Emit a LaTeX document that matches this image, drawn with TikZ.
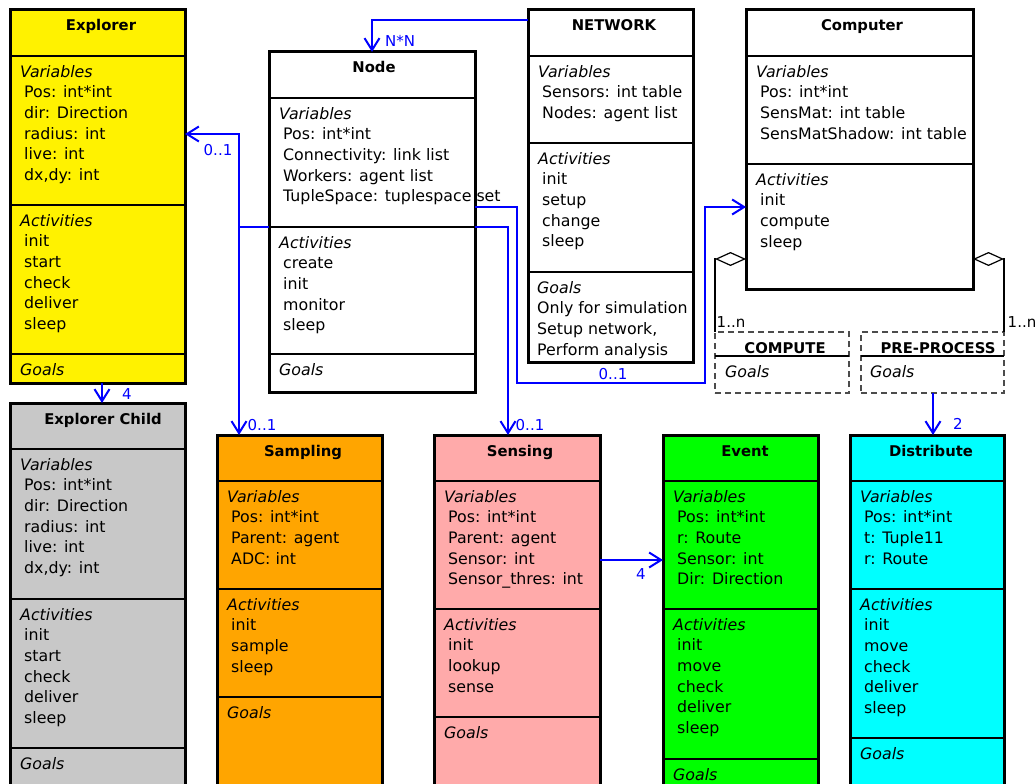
\documentclass[tikz,border=0pt]{standalone}
\usepackage{fontspec}
\setmainfont{DejaVu Sans}
\usetikzlibrary{arrows.meta}
\definecolor{childgray}{RGB}{200,200,200}
\definecolor{sampleorange}{RGB}{255,165,0}
\definecolor{sensepink}{RGB}{255,170,170}
\definecolor{eventgreen}{RGB}{0,255,0}
\definecolor{distcyan}{RGB}{0,255,255}
\newcommand{\attr}{\hspace*{4pt}}
\tikzset{
	every node/.style={font=\fontsize{15.8}{20.7}\selectfont},
	cls/.style={draw, line width=3pt, anchor=north west, inner sep=0pt, outer sep=0pt},
	dcls/.style={draw=black!70, dash pattern=on 6pt off 4pt, line width=1.3pt, anchor=north west, inner sep=0pt, outer sep=0pt},
	sep/.style={line width=1.8pt},
	ttl/.style={font=\fontsize{14.8}{18}\selectfont\bfseries, anchor=base},
	txt/.style={align=left, anchor=north west, inner sep=0pt},
	lbl/.style={blue, inner sep=0pt, font=\fontsize{15}{18}\selectfont},
	lnk/.style={blue, line width=2pt, -{Straight Barb[length=12pt,width=15pt]}},
	agg/.style={line width=1.2pt, -{Diamond[open,length=31pt,width=14pt]}},
}

\begin{document}
\begin{tikzpicture}[x=1pt, y=-1pt]
		%%%%% START %%%%%
		\path[use as bounding box, clip] (0,0) rectangle (1036,784);
		
		% Explorer
		\node[cls, fill=yellow, minimum width=175, minimum height=373] (explorer) at (10,10) {};
		\draw[sep] (10,56) -- (185,56);
		\draw[sep] (10,205) -- (185,205);
		\draw[sep] (10,354) -- (185,354);
		\node[ttl] (explorert) at (101,31) {Explorer};
		\node[txt] (explorerv) at (20,62.5) {\strut\textit{Variables}\\\attr Pos: int*int\\\attr dir: Direction\\\attr radius: int\\\attr live: int\\\attr dx,dy: int};
		\node[txt] (explorera) at (20,211.5) {\strut\textit{Activities}\\\attr init\\\attr start\\\attr check\\\attr deliver\\\attr sleep};
		\node[txt] (explorerg) at (20,360.5) {\strut\textit{Goals}};
		
		% Explorer Child
		\node[cls, fill=childgray, minimum width=175, minimum height=400] (child) at (10,403) {};
		\draw[sep] (10,449) -- (185,449);
		\draw[sep] (10,599) -- (185,599);
		\draw[sep] (10,748) -- (185,748);
		\node[ttl] (childt) at (103,424) {Explorer Child};
		\node[txt] (childv) at (20,455.5) {\strut\textit{Variables}\\\attr Pos: int*int\\\attr dir: Direction\\\attr radius: int\\\attr live: int\\\attr dx,dy: int};
		\node[txt] (childa) at (20,605.5) {\strut\textit{Activities}\\\attr init\\\attr start\\\attr check\\\attr deliver\\\attr sleep};
		\node[txt] (childg) at (20,754.5) {\strut\textit{Goals}};
		
		% Node
		\node[cls, fill=white, minimum width=206, minimum height=340] (nodeagt) at (269,52) {};
		\draw[sep] (269,98) -- (475,98);
		\draw[sep] (269,227) -- (475,227);
		\draw[sep] (269,354) -- (475,354);
		\node[ttl] (nodeagtt) at (374,73) {Node};
		\node[txt] (nodeagtv) at (279,104.5) {\strut\textit{Variables}\\\attr Pos: int*int\\\attr Connectivity: link list\\\attr Workers: agent list\\\attr TupleSpace: tuplespace set};
		\node[txt] (nodeagta) at (279,233.5) {\strut\textit{Activities}\\\attr create\\\attr init\\\attr monitor\\\attr sleep};
		\node[txt] (nodeagtg) at (279,360.5) {\strut\textit{Goals}};
		
		% NETWORK
		\node[cls, fill=white, minimum width=165, minimum height=352] (network) at (528,10) {};
		\draw[sep] (528,56) -- (693,56);
		\draw[sep] (528,143) -- (693,143);
		\draw[sep] (528,272) -- (693,272);
		\node[ttl] (networkt) at (614,31) {NETWORK};
		\node[txt] (networkv) at (538,62.5) {\strut\textit{Variables}\\\attr Sensors: int table\\\attr Nodes: agent list};
		\node[txt] (networka) at (538,149.5) {\strut\textit{Activities}\\\attr init\\\attr setup\\\attr change\\\attr sleep};
		\node[txt] (networkg) at (537,278.5) {\strut\textit{Goals}\\Only for simulation\\Setup network,\\Perform analysis};
		
		% Computer
		\node[cls, fill=white, minimum width=227, minimum height=279] (computer) at (746,10) {};
		\draw[sep] (746,56) -- (973,56);
		\draw[sep] (746,164) -- (973,164);
		\node[ttl] (computert) at (862,31) {Computer};
		\node[txt] (computerv) at (756,62.5) {\strut\textit{Variables}\\\attr Pos: int*int\\\attr SensMat: int table\\\attr SensMatShadow: int table};
		\node[txt] (computera) at (756,170.5) {\strut\textit{Activities}\\\attr init\\\attr compute\\\attr sleep};
		
		% COMPUTE / PRE-PROCESS
		\node[dcls, minimum width=134, minimum height=61] (computeg) at (715,332) {};
		\draw[line width=1.2pt] (715,356) -- (849,356);
		\node[ttl] (computegt) at (785,353) {COMPUTE};
		\node[txt] (computegg) at (725,362.5) {\strut\textit{Goals}};
		\node[dcls, minimum width=143, minimum height=61] (preproc) at (861,332) {};
		\draw[line width=1.2pt] (861,356) -- (1004,356);
		\node[ttl] (preproct) at (938,353) {PRE-PROCESS};
		\node[txt] (preprocg) at (870,362.5) {\strut\textit{Goals}};
		
		% Sampling
		\node[cls, fill=sampleorange, minimum width=165, minimum height=400] (sampling) at (217,435) {};
		\draw[sep] (217,481) -- (382,481);
		\draw[sep] (217,589) -- (382,589);
		\draw[sep] (217,697) -- (382,697);
		\node[ttl] (samplingt) at (303,456) {Sampling};
		\node[txt] (samplingv) at (227,487.5) {\strut\textit{Variables}\\\attr Pos: int*int\\\attr Parent: agent\\\attr ADC: int};
		\node[txt] (samplinga) at (227,595.5) {\strut\textit{Activities}\\\attr init\\\attr sample\\\attr sleep};
		\node[txt] (samplingg) at (227,703.5) {\strut\textit{Goals}};
		
		% Sensing
		\node[cls, fill=sensepink, minimum width=166, minimum height=400] (sensing) at (434,435) {};
		\draw[sep] (434,481) -- (600,481);
		\draw[sep] (434,609) -- (600,609);
		\draw[sep] (434,717) -- (600,717);
		\node[ttl] (sensingt) at (520,456) {Sensing};
		\node[txt] (sensingv) at (444,487.5) {\strut\textit{Variables}\\\attr Pos: int*int\\\attr Parent: agent\\\attr Sensor: int\\\attr Sensor\_thres: int};
		\node[txt] (sensinga) at (444,615.5) {\strut\textit{Activities}\\\attr init\\\attr lookup\\\attr sense};
		\node[txt] (sensingg) at (444,723.5) {\strut\textit{Goals}};
		
		% Event
		\node[cls, fill=eventgreen, minimum width=155, minimum height=400] (event) at (663,435) {};
		\draw[sep] (663,481) -- (818,481);
		\draw[sep] (663,609) -- (818,609);
		\draw[sep] (663,759) -- (818,759);
		\node[ttl] (eventt) at (745,456) {Event};
		\node[txt] (eventv) at (673,487.5) {\strut\textit{Variables}\\\attr Pos: int*int\\\attr r: Route\\\attr Sensor: int\\\attr Dir: Direction};
		\node[txt] (eventa) at (673,615.5) {\strut\textit{Activities}\\\attr init\\\attr move\\\attr check\\\attr deliver\\\attr sleep};
		\node[txt] (eventg) at (673,765.5) {\strut\textit{Goals}};
		
		% Distribute
		\node[cls, fill=distcyan, minimum width=154, minimum height=400] (distribute) at (850,435) {};
		\draw[sep] (850,481) -- (1004,481);
		\draw[sep] (850,589) -- (1004,589);
		\draw[sep] (850,738) -- (1004,738);
		\node[ttl] (distributet) at (931,456) {Distribute};
		\node[txt] (distributev) at (860,487.5) {\strut\textit{Variables}\\\attr Pos: int*int\\\attr t: Tuple11\\\attr r: Route};
		\node[txt] (distributea) at (860,595.5) {\strut\textit{Activities}\\\attr init\\\attr move\\\attr check\\\attr deliver\\\attr sleep};
		\node[txt] (distributeg) at (860,744.5) {\strut\textit{Goals}};
		
		% links
		\coordinate (jl) at (239,227);
		\draw[blue, line width=2pt] (nodeagt.west |- jl) -- (jl);
		\draw[lnk] (jl) |- (explorer.east |- 0,134);
		\draw[lnk] (jl) -- (jl |- sampling.north);
		\draw[lnk] (network.west |- 0,20) -| (nodeagt.north);
		\draw[lnk] (nodeagt.east |- 0,227) -| (508,0 |- sensing.north);
		\draw[lnk] (nodeagt.east |- 0,207) -| (517,383) -| (705,207) -- (computer.west |- 0,207);
		\draw[lnk] (102,0 |- explorer.south) -- (102,0 |- child.north);
		\draw[lnk] (sensing.east |- 0,560) -- (event.west |- 0,560);
		\draw[lnk] (933,0 |- preproc.south) -- (933,0 |- distribute.north);
		\draw[agg] (computeg.north west) |- (computer.west |- 0,259);
		\draw[agg] (preproc.north east) |- (computer.east |- 0,259);
		
		\node[lbl] (lnn) at (400,41) {N*N};
		\node[lbl] (lexpl) at (218,150) {0..1};
		\node[lbl] (lsamp) at (262,425) {0..1};
		\node[lbl] (lsens) at (530,425) {0..1};
		\node[lbl] (lcomp) at (613,374) {0..1};
		\node[lbl] (lchild) at (127,394) {4};
		\node[lbl] (levent) at (641,574) {4};
		\node[lbl] (ldist) at (958,424) {2};
		\node[lbl, black] (lcompn) at (731,322) {1..n};
		\node[lbl, black] (lpren) at (1022,322) {1..n};
		
		%%%%% END %%%%%
\end{tikzpicture}
\end{document}
